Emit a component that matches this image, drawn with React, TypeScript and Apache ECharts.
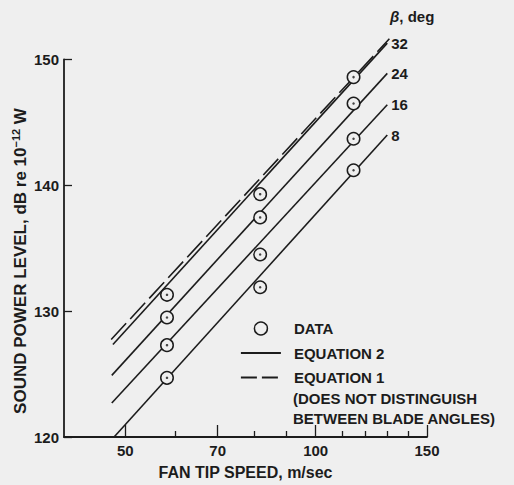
import React, { useEffect, useRef } from "react";
import * as echarts from "echarts";

// ---- data ----
const betaLabels = ["8", "16", "24", "32"];
const dataSpeeds = [58.2, 81.7, 114.8];
const dataLevels = [
  [124.7, 131.9, 141.2],
  [127.3, 134.5, 143.7],
  [129.5, 137.45, 146.5],
  [131.3, 139.3, 148.6],
];
const eq2StartSpeed = [48.0, 47.6, 47.6, 47.8];
const eq2EndSpeed = [129.8, 129.8, 129.8, 129.8];
const eq2StartLevel = [120.0, 122.7, 124.9, 127.35];
const eq2EndLevel = [144.0, 146.4, 148.9, 151.3];
const eq1Speed = [47.5, 130.8];
const eq1Level = [127.75, 151.65];
const majorTicks = [50, 70, 100, 150];
const minorTicks = [60, 80, 90, 110, 120, 130, 140];
const yTicks = [120, 130, 140, 150];

const INK = "#1c1c1c";
const BG = "#efefef";
const FONT = "Liberation Sans, Arial, sans-serif";

export default function App() {
  const ref = useRef<HTMLDivElement>(null);
  useEffect(() => {
    if (!ref.current) return;
    const chart = echarts.init(ref.current, undefined, { renderer: "svg" });

    const txt = { fontFamily: FONT, fontSize: 15, fontWeight: "bold" as const, color: INK };

    const lineSeries = betaLabels.map((b, i) => ({
      name: "EQUATION 2",
      type: "line",
      data: [
        [eq2StartSpeed[i], eq2StartLevel[i]],
        [eq2EndSpeed[i], eq2EndLevel[i]],
      ],
      symbol: "none",
      clip: false,
      silent: true,
      itemStyle: { color: INK },
      lineStyle: { color: INK, width: 1.6 },
      endLabel: { show: true, formatter: b, distance: 4, ...txt },
      z: 3,
    }));

    const scatterData: number[][] = [];
    dataLevels.forEach((row) => row.forEach((v, j) => scatterData.push([dataSpeeds[j], v])));

    chart.setOption({
      animation: false,
      backgroundColor: BG,
      textStyle: { fontFamily: FONT },
      title: {
        text: "{b|β}, deg",
        left: 390,
        top: 9,
        padding: 0,
        textStyle: {
          ...txt,
          rich: { b: { ...txt, fontStyle: "italic" } },
        },
      },
      grid: { left: 64, right: 87, top: 59.5, bottom: 45 },
      legend: {
        left: 240,
        top: 321,
        orient: "vertical",
        padding: 0,
        itemWidth: 40,
        itemHeight: 13,
        itemGap: 9.5,
        textStyle: { ...txt, lineHeight: 13, padding: [0, 0, 0, 8] },
        data: [
          { name: "DATA", itemStyle: { borderWidth: 1.5, borderColor: INK, color: BG } },
          { name: "EQUATION 2", itemStyle: { opacity: 0 }, lineStyle: { color: INK, width: 1.8 } },
          { name: "EQUATION 1", itemStyle: { opacity: 0 }, lineStyle: { color: INK, width: 1.8, type: [16, 5] } },
        ],
        selectedMode: false,
      },
      graphic: [
        { type: "text", left: 293, top: 391, style: { text: "(DOES NOT DISTINGUISH", font: `bold 15px ${FONT}`, fill: INK } },
        { type: "text", left: 293, top: 410.5, style: { text: "BETWEEN BLADE ANGLES)", font: `bold 15px ${FONT}`, fill: INK } },
        {
          type: "text",
          x: 20,
          y: 261,
          rotation: Math.PI / 2,
          style: {
            text: "SOUND POWER LEVEL, dB re 10{sup|−12} W",
            font: `bold 17px ${FONT}`,
            fill: INK,
            align: "center",
            verticalAlign: "middle",
            rich: {
              sup: { fontFamily: FONT, fontWeight: "bold", fontSize: 11, fill: INK, verticalAlign: "bottom", padding: [0, 0, 8, 0] },
            },
          },
        },
      ],
      xAxis: [
        {
          type: "log",
          logBase: 10,
          min: 40,
          max: 150,
          position: "bottom",
          name: "FAN TIP SPEED, m/sec",
          nameLocation: "middle",
          nameGap: 27,
          nameTextStyle: { ...txt, fontSize: 16 },
          axisLine: { show: true, lineStyle: { color: INK, width: 1.8 } },
          axisTick: { show: true, inside: true, length: 12, customValues: majorTicks, lineStyle: { color: INK, width: 1.3 } },
          axisLabel: { show: true, customValues: majorTicks, margin: 6, ...txt },
          splitLine: { show: false },
          minorTick: { show: false },
        },
        {
          type: "log",
          logBase: 10,
          min: 40,
          max: 150,
          position: "bottom",
          axisLine: { show: false },
          axisTick: { show: true, inside: true, length: 6, customValues: minorTicks, lineStyle: { color: INK, width: 1.3 } },
          axisLabel: { show: false },
          splitLine: { show: false },
        },
      ],
      yAxis: {
        type: "value",
        min: 120,
        max: 150,
        interval: 10,
        axisLine: { show: true, lineStyle: { color: INK, width: 1.8 } },
        axisTick: { show: true, inside: true, length: 8, customValues: yTicks, lineStyle: { color: INK, width: 1.3 } },
        axisLabel: { margin: 5, ...txt },
        splitLine: { show: false },
      },
      series: [
        ...lineSeries,
        {
          name: "EQUATION 1",
          type: "line",
          data: [
            [eq1Speed[0], eq1Level[0]],
            [eq1Speed[1], eq1Level[1]],
          ],
          symbol: "none",
          clip: false,
          silent: true,
          itemStyle: { color: INK },
          lineStyle: { color: INK, width: 1.6, type: [22, 6] },
          z: 3,
        },
        {
          name: "DATA",
          type: "scatter",
          data: scatterData,
          symbol: "circle",
          symbolSize: 12.5,
          silent: true,
          itemStyle: { color: BG, borderColor: INK, borderWidth: 1.5, opacity: 1 },
          z: 5,
        },
        {
          name: "center dots",
          type: "scatter",
          data: scatterData,
          symbol: "circle",
          symbolSize: 2.5,
          silent: true,
          itemStyle: { color: INK },
          z: 6,
        },
      ],
    });

    return () => chart.dispose();
  }, []);

  return (
    <div
      ref={ref}
      style={{ position: "fixed", left: 0, top: 0, width: 514, height: 485 }}
    />
  );
}
